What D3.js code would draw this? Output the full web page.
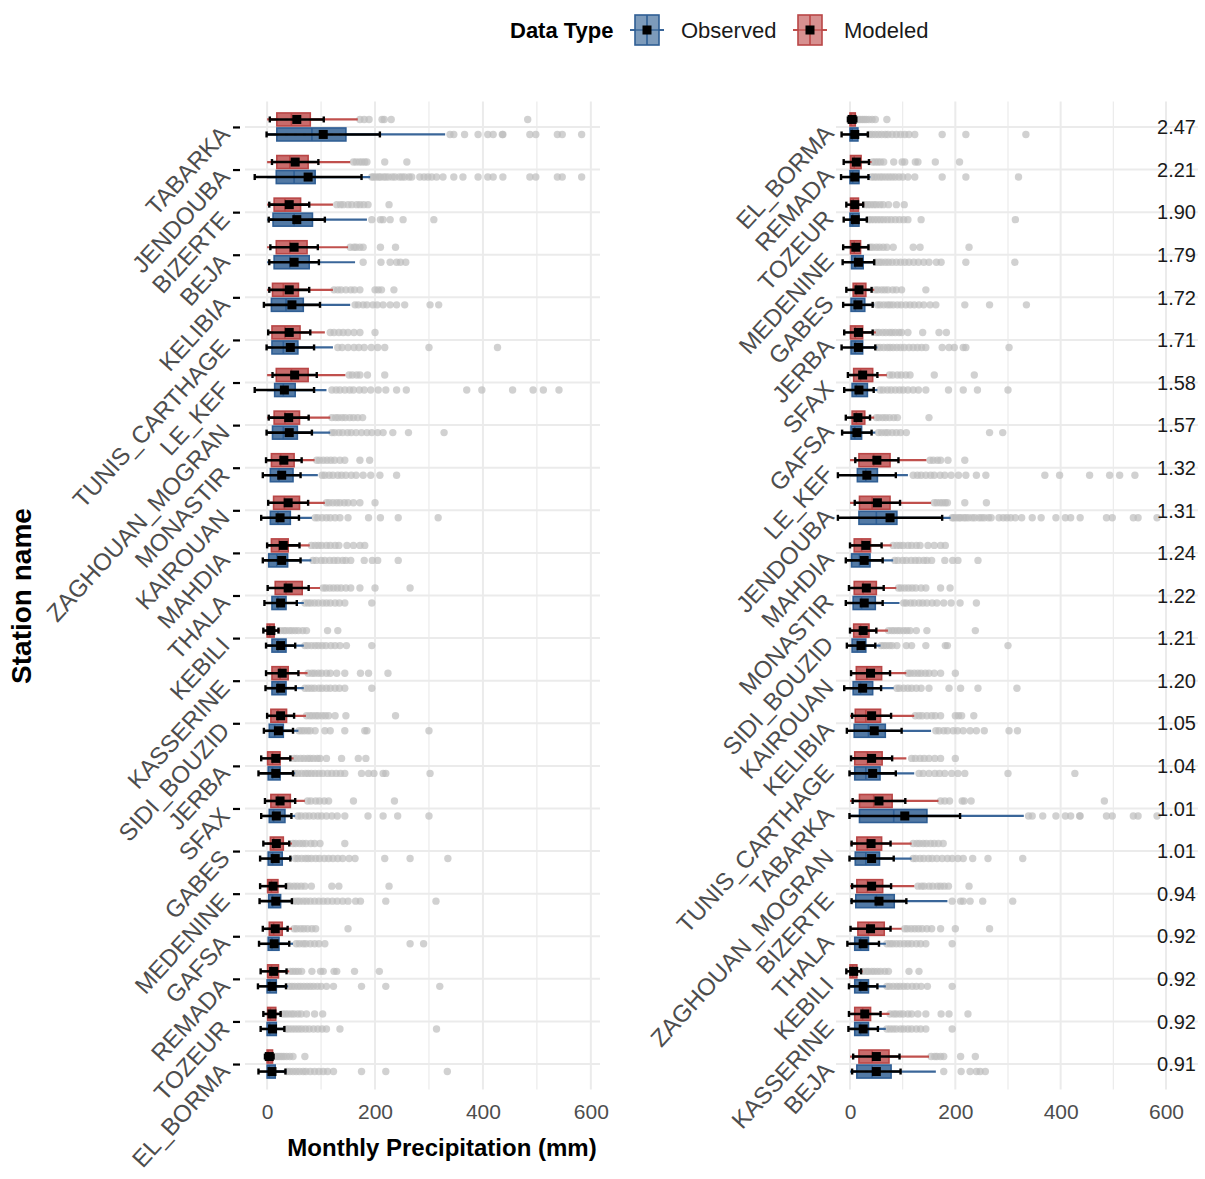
<!DOCTYPE html>
<html>
<head>
<meta charset="utf-8">
<script src="https://cdn.jsdelivr.net/npm/d3@7"></script>
<style>
  html, body { margin: 0; padding: 0; background: #fff; }
  svg { display: block; font-family: "Liberation Sans", Arial, sans-serif; }
</style>
</head>
<body>
<svg id="chart" width="1205" height="1179"></svg>
<script>
// Stations, in the order used by the left panel (top to bottom)
const stations = ["TABARKA","JENDOUBA","BIZERTE","BEJA","KELIBIA","TUNIS_CARTHAGE","LE_KEF",
  "ZAGHOUAN_MOGRAN","MONASTIR","KAIROUAN","MAHDIA","THALA","KEBILI","KASSERINE","SIDI_BOUZID",
  "JERBA","SFAX","GABES","MEDENINE","GAFSA","REMADA","TOZEUR","EL_BORMA"];

// Order of the right panel (sorted by ratio) and the ratio printed on each row
const ratioOrder = ["EL_BORMA","REMADA","TOZEUR","MEDENINE","GABES","JERBA","SFAX","GAFSA","LE_KEF",
  "JENDOUBA","MAHDIA","MONASTIR","SIDI_BOUZID","KAIROUAN","KELIBIA","TUNIS_CARTHAGE","TABARKA",
  "ZAGHOUAN_MOGRAN","BIZERTE","THALA","KEBILI","KASSERINE","BEJA"];
const ratios = [2.47,2.21,1.90,1.79,1.72,1.71,1.58,1.57,1.32,1.31,1.24,1.22,1.21,1.20,1.05,1.04,1.01,1.01,0.94,0.92,0.92,0.92,0.91];

const xTicks = [0, 200, 400, 600];
const xMinor = [100, 300, 500];

// Monthly precipitation (mm) summaries per station, same order as `stations`
// Modeled
const modQ1   = [18,18,13,17,10, 9,17,13, 8,12, 8,15, 0, 9, 7, 1, 7, 6, 1, 4, 1, 1, 0];
const modMed  = [45,42,33,42,30,33,45,33,25,32,22,35, 5,24,20,10,20,12, 8,12, 8, 6, 2];
const modQ3   = [80,76,62,74,58,61,76,60,50,60,39,65,13,39,36,24,43,30,20,28,21,16,10];
const modLo   = [ 0, 0, 0, 0, 0, 0, 0, 0, 0, 0, 0, 0, 0, 0, 0, 0, 0, 0, 0, 0, 0, 0, 0];
const modHi   = [168,154,122,150,122,107,145,117,88,107,79,98,24,75,72,49,70,46,37,46,41,27,12];
const modMean = [55,52,41,50,41,41,51,40,31,39,30,39, 7,28,25,16,24,17,11,15,12, 9, 4];
const modSD   = [50,43,37,44,37,39,41,37,33,37,30,38,14,30,25,27,28,24,24,23,24,16, 8];
const modOut  = [
  [172,180,189,213,217,230,483],
  [160,165,171,176,181,185,218,259],
  [129,136,141,150,157,166,172,179,187,226],
  [154,161,165,172,178,210,238],
  [124,131,137,146,155,162,172,200,206,212,235],
  [117,124,133,141,150,161,172,200],
  [152,158,166,172,186,218],
  [120,127,132,139,145,153,160,168,177],
  [92,97,104,111,118,125,135,144,172,190],
  [110,115,122,129,135,143,150,160,172,200],
  [82,89,95,101,110,117,126,133,148,160,172,181],
  [104,109,116,123,130,137,146,155,172,200,265],
  [25,31,35,41,46,52,58,66,73,112,131],
  [76,83,88,95,101,110,117,129,144,173,188,224],
  [73,79,84,90,95,102,108,114,126,146,238],
  [50,55,62,68,75,80,86,93,98,110,138,169,183],
  [75,81,90,97,106,114,160,236],
  [48,53,60,66,72,81,88,98,144],
  [38,43,50,56,63,70,82,120,133,226],
  [50,55,62,68,75,83,90,150],
  [43,48,53,58,64,83,99,104,124,129,162,208],
  [29,34,39,45,50,57,63,73,88,103],
  [15,19,23,27,31,36,42,48,70]
];
// Observed
const obsQ1   = [18,17,11,13, 8, 9,14,10, 6, 6, 3, 9, 9, 9, 4, 2, 4, 2, 3, 2, 0, 0, 0];
const obsMed  = [83,50,50,42,35,30,30,30,22,20,18,20,20,20,14,10,12,10,10, 9, 5, 5, 4];
const obsQ3   = [146,89,84,78,67,57,52,56,48,43,38,35,35,35,30,24,33,28,25,22,17,17,15];
const obsLo   = [ 0, 0, 0, 0, 0, 0, 0, 0, 0, 0, 0, 0, 0, 0, 0, 0, 0, 0, 0, 0, 0, 0, 0];
const obsHi   = [330,191,185,163,154,122,110,117,94,83,82,68,68,68,58,52,52,46,47,48,39,33,36];
const obsMean = [104,76,55,50,46,43,32,41,27,24,27,25,25,25,21,16,17,15,16,13, 9,10, 9];
const obsSD   = [105,99,52,46,52,44,55,42,35,35,35,30,27,28,27,32,28,28,30,28,26,22,25];
const obsOut  = [
  [339,346,366,391,409,419,436,437,487,498,538,547,583],
  [194,197,202,207,210,216,220,225,232,237,245,250,255,263,268,283,291,298,305,314,326,346,363,391,409,419,437,487,498,538,547,583],
  [194,210,215,228,252,309],
  [178,211,228,240,247,257],
  [163,169,178,185,196,204,215,228,240,255,302,318],
  [131,139,150,161,170,180,193,205,218,300,427],
  [120,128,135,144,153,160,171,180,192,206,220,240,258,370,398,455,493,512,541],
  [120,125,133,140,149,156,165,175,185,194,205,215,233,262,328],
  [102,107,115,122,131,138,146,156,165,178,192,209,240],
  [89,94,102,110,117,126,135,150,188,210,243,317],
  [85,91,100,107,116,124,131,140,146,155,180,195,205,243],
  [70,76,81,88,95,103,110,117,126,134,144,194],
  [70,75,82,89,95,102,109,118,126,135,147,194],
  [70,76,82,88,96,102,110,117,126,134,144,194],
  [59,64,69,75,80,89,107,117,144,181,185,300],
  [52,57,64,71,76,82,89,96,103,112,120,128,136,144,175,188,198,215,220,302],
  [57,63,71,78,86,94,101,110,120,130,144,187,215,242,300],
  [52,57,64,71,76,82,90,97,106,114,122,131,140,152,163,218,265,335],
  [49,55,60,67,73,80,88,96,104,112,121,130,140,150,164,173,220,313],
  [54,60,67,72,80,88,96,107,265,290],
  [41,46,51,57,62,68,74,80,86,93,100,110,123,175,220,320],
  [35,40,46,52,58,64,71,78,86,94,102,110,135,314],
  [37,42,48,54,60,67,72,80,88,96,104,112,123,175,220,334]
];

// Build row records from the arrays
function rows(q1, med, q3, lo, hi, mean, sd, out) {
  return stations.map((s, i) => ({ station: s, q1: q1[i], med: med[i], q3: q3[i],
    lo: lo[i], hi: hi[i], mean: mean[i], sd: sd[i], out: out[i] }));
}
const series = [
  { key: "Modeled",  offset: -7.5, fill: "#c96b6b", edge: "#b94646", whisker: "#c0504d", light: "#e2a3a3",
    data: rows(modQ1, modMed, modQ3, modLo, modHi, modMean, modSD, modOut) },
  { key: "Observed", offset: 7.5,  fill: "#5279a4", edge: "#2f5e94", whisker: "#3a6699", light: "#8fa9c7",
    data: rows(obsQ1, obsMed, obsQ3, obsLo, obsHi, obsMean, obsSD, obsOut) }
];

const svg = d3.select("#chart");
svg.append("rect").attr("width", 1205).attr("height", 1179).attr("fill", "#fff");

const panelTop = 101.4, panelBottom = 1089.6;
const boxH = 13;
const gridCol = "#ebebeb";
const textCol = "#4d4d4d";

function drawPanel(opts) {
  const { x, order, left, right, showTicks, labelX, labelDY } = opts;
  const y = d3.scalePoint().domain(order).range([panelTop, panelBottom]).padding(0.6);
  const g = svg.append("g");

  // grid
  g.selectAll(".gminor").data(xMinor).join("line")
    .attr("x1", d => x(d)).attr("x2", d => x(d)).attr("y1", panelTop).attr("y2", panelBottom)
    .attr("stroke", gridCol).attr("stroke-width", 1.2);
  g.selectAll(".gmajor").data(xTicks).join("line")
    .attr("x1", d => x(d)).attr("x2", d => x(d)).attr("y1", panelTop).attr("y2", panelBottom)
    .attr("stroke", gridCol).attr("stroke-width", 2);
  g.selectAll(".gh").data(order).join("line")
    .attr("x1", left).attr("x2", right).attr("y1", d => y(d)).attr("y2", d => y(d))
    .attr("stroke", gridCol).attr("stroke-width", 2);

  // boxes
  series.forEach(sr => {
    const byName = new Map(sr.data.map(d => [d.station, d]));
    order.forEach(name => {
      const d = byName.get(name);
      const cy = y(name) + sr.offset;
      const row = g.append("g");
      row.selectAll("circle").data(d.out).join("circle")
        .attr("cx", v => x(v)).attr("cy", cy).attr("r", 3.7)
        .attr("fill", "#bdbdbd").attr("fill-opacity", 0.7);
      row.append("line").attr("x1", x(d.lo)).attr("x2", x(d.hi)).attr("y1", cy).attr("y2", cy)
        .attr("stroke", sr.whisker).attr("stroke-width", 2.2);
      row.append("rect").attr("x", x(d.q1)).attr("y", cy - boxH / 2)
        .attr("width", Math.max(1, x(d.q3) - x(d.q1))).attr("height", boxH)
        .attr("fill", sr.fill).attr("stroke", sr.edge).attr("stroke-width", 1.6);
      if (x(d.q3) - x(d.q1) > 6) {
        row.append("line").attr("x1", x(d.q1) + 2).attr("x2", x(d.q3) - 2).attr("y1", cy).attr("y2", cy)
          .attr("stroke", sr.light).attr("stroke-width", 1.6).attr("stroke-dasharray", "6,3");
      }
      row.append("line").attr("x1", x(d.med)).attr("x2", x(d.med))
        .attr("y1", cy - boxH / 2).attr("y2", cy + boxH / 2)
        .attr("stroke", sr.edge).attr("stroke-width", 1.6);
      // mean ± sd
      const e0 = x(d.mean - d.sd), e1 = x(d.mean + d.sd);
      row.append("line").attr("x1", e0).attr("x2", e1).attr("y1", cy).attr("y2", cy)
        .attr("stroke", "#000").attr("stroke-width", 2.6);
      [e0, e1].forEach(ex => row.append("line").attr("x1", ex).attr("x2", ex)
        .attr("y1", cy - 3).attr("y2", cy + 3).attr("stroke", "#000").attr("stroke-width", 2.4));
      row.append("rect").attr("x", x(d.mean) - 4.5).attr("y", cy - 4.5)
        .attr("width", 9).attr("height", 9).attr("fill", "#000");
    });
  });

  // x axis labels
  const xa = g.append("g").attr("transform", `translate(0,${panelBottom + 10})`)
    .call(d3.axisBottom(x).tickValues(xTicks).tickSize(0).tickPadding(4));
  xa.select(".domain").remove();
  xa.selectAll("text").attr("font-size", 21).attr("fill", textCol)
    .attr("font-family", "Liberation Sans, Arial, sans-serif");

  // y axis (rotated station names, baseline ends at the anchor)
  const ya = g.append("g").attr("transform", `translate(${left},0)`)
    .call(d3.axisLeft(y).tickSize(showTicks ? 7 : 0).tickPadding(0));
  ya.select(".domain").remove();
  ya.selectAll(".tick line").attr("stroke", "#000").attr("stroke-width", 2.2)
    .attr("transform", showTicks ? "translate(-5,0)" : null);
  ya.selectAll(".tick text")
    .attr("x", null).attr("dy", null)
    .attr("transform", `translate(${labelX - left},${labelDY}) rotate(-47.5)`)
    .attr("text-anchor", "end")
    .attr("font-size", 24).attr("fill", textCol)
    .attr("font-family", "Liberation Sans, Arial, sans-serif");
  return y;
}

const xL = d3.scaleLinear().domain([-41, 617]).range([245, 600]);
const xR = d3.scaleLinear().domain([-26.6, 660.8]).range([836, 1198]);

drawPanel({ x: xL, order: stations, left: 245, right: 600, showTicks: true, labelX: 231, labelDY: 8 });
const yR = drawPanel({ x: xR, order: ratioOrder, left: 836, right: 1198, showTicks: false, labelX: 835, labelDY: 7 });

// ratio labels on the right panel
svg.append("g").selectAll("text").data(ratioOrder).join("text")
  .attr("x", xR(620)).attr("y", d => yR(d)).attr("dy", "0.36em")
  .attr("text-anchor", "middle").attr("font-size", 20).attr("fill", "#1a1a1a")
  .text((d, i) => ratios[i].toFixed(2));

// axis titles
svg.append("text").attr("x", 442).attr("y", 1156).attr("text-anchor", "middle")
  .attr("font-size", 24).attr("font-weight", "bold").attr("fill", "#000")
  .text("Monthly Precipitation (mm)");
svg.append("text").attr("transform", "translate(31,596) rotate(-90)").attr("text-anchor", "middle")
  .attr("font-size", 28).attr("font-weight", "bold").attr("fill", "#000")
  .text("Station name");

// legend
const lg = svg.append("g");
lg.append("text").attr("x", 510).attr("y", 38).attr("font-size", 22).attr("font-weight", "bold")
  .attr("fill", "#000").text("Data Type");
[{ s: series[1], cx: 647, tx: 681 }, { s: series[0], cx: 810, tx: 844 }].forEach(k => {
  const c = k.s;
  lg.append("line").attr("x1", k.cx - 17).attr("x2", k.cx + 17).attr("y1", 30).attr("y2", 30)
    .attr("stroke", c.whisker).attr("stroke-width", 2.2);
  lg.append("rect").attr("x", k.cx - 12).attr("y", 15).attr("width", 24).attr("height", 30)
    .attr("fill", c.fill).attr("fill-opacity", 0.75).attr("stroke", c.edge).attr("stroke-width", 1.6);
  lg.append("line").attr("x1", k.cx).attr("x2", k.cx).attr("y1", 15).attr("y2", 45)
    .attr("stroke", c.edge).attr("stroke-width", 1.6);
  lg.append("rect").attr("x", k.cx - 4.5).attr("y", 25.5).attr("width", 9).attr("height", 9).attr("fill", "#000");
  lg.append("text").attr("x", k.tx).attr("y", 38).attr("font-size", 22).attr("fill", "#1a1a1a").text(c.key);
});
</script>
</body>
</html>
